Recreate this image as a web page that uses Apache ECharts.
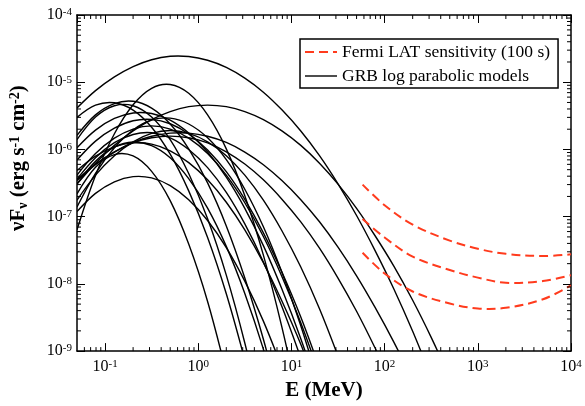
<!DOCTYPE html>
<html>
<head>
<meta charset="utf-8">
<script src="https://cdn.jsdelivr.net/npm/echarts@6/dist/echarts.min.js"></script>
<style>
  html, body { margin: 0; padding: 0; background: #fff; }
  #chart { width: 585px; height: 406px; }
</style>
</head>
<body>
<div id="chart"></div>
<script>
// Photon energies (MeV) at which each GRB log-parabolic model is tabulated
const energies = [0.05, 0.079, 0.126, 0.2, 0.316, 0.5, 0.79, 1.26, 2, 3.16, 5,
                  7.9, 12.6, 20, 31.6, 50, 79, 126, 200, 316, 500];

// nuF_nu (erg s^-1 cm^-2) of each burst model, aligned with `energies`
const grb01 = [4.15e-6, 7.50e-6, 1.20e-5, 1.71e-5, 2.16e-5, 2.43e-5, 2.41e-5, 2.12e-5, 1.66e-5, 1.15e-5, 7.11e-6,
               3.88e-6, 1.88e-6, 8.09e-7, 3.08e-7, 1.04e-7, 3.13e-8, 8.34e-9, 1.97e-9, 4.13e-10];
const grb02 = [3.05e-7, 6.25e-7, 1.15e-6, 1.89e-6, 2.78e-6, 3.66e-6, 4.33e-6, 4.57e-6, 4.33e-6, 3.66e-6, 2.78e-6,
               1.89e-6, 1.15e-6, 6.25e-7, 3.05e-7, 1.33e-7, 5.20e-8, 1.82e-8, 5.70e-9, 1.60e-9, 4.02e-10];
const grb03 = [6.37e-8, 4.10e-7, 1.71e-6, 4.62e-6, 8.13e-6, 9.25e-6, 6.84e-6, 3.27e-6, 1.02e-6, 2.05e-7, 2.68e-8,
               2.28e-9, 1.25e-10];
const grb04 = [1.62e-6, 3.27e-6, 4.81e-6, 5.20e-6, 4.12e-6, 2.39e-6, 1.02e-6, 3.18e-7, 7.28e-8, 1.22e-8, 1.50e-9,
               1.36e-10];
const grb05 = [3.00e-6, 4.56e-6, 4.95e-6, 3.85e-6, 2.14e-6, 8.51e-7, 2.42e-7, 4.91e-8, 7.13e-9, 7.40e-10];
const grb06 = [1.40e-6, 3.03e-6, 4.46e-6, 4.46e-6, 3.03e-6, 1.40e-6, 4.38e-7, 9.31e-8, 1.35e-8, 1.32e-9, 8.8e-11];
const grb07 = [1.39e-7, 4.40e-7, 1.06e-6, 1.95e-6, 2.74e-6, 2.92e-6, 2.39e-6, 1.49e-6, 7.06e-7, 2.56e-7, 7.06e-8,
               1.49e-8, 2.39e-9, 2.94e-10];
const grb08 = [6.95e-7, 1.33e-6, 2.07e-6, 2.67e-6, 2.80e-6, 2.41e-6, 1.70e-6, 9.84e-7, 4.67e-7, 1.81e-7, 5.75e-8,
               1.50e-8, 3.21e-9, 5.61e-10];
const grb09 = [3.44e-7, 5.92e-7, 9.14e-7, 1.27e-6, 1.57e-6, 1.75e-6, 1.75e-6, 1.57e-6, 1.27e-6, 9.14e-7, 5.92e-7,
               3.44e-7, 1.79e-7, 8.39e-8, 3.52e-8, 1.32e-8, 4.47e-9, 1.35e-9, 3.68e-10];
const grb10 = [3.08e-7, 6.68e-7, 1.08e-6, 1.29e-6, 1.14e-6, 7.52e-7, 3.68e-7, 1.34e-7, 3.61e-8, 7.21e-9, 1.07e-9,
               1.18e-10];
const grb11 = [2.19e-7, 5.45e-7, 8.38e-7, 8.00e-7, 4.72e-7, 1.73e-7, 3.91e-8, 5.48e-9, 4.78e-10];
const grb12 = [1.19e-7, 2.22e-7, 3.30e-7, 3.94e-7, 3.77e-7, 2.89e-7, 1.78e-7, 8.77e-8, 3.47e-8, 1.10e-8, 2.79e-9,
               5.68e-10];
const grb13 = [3.61e-7, 7.55e-7, 1.26e-6, 1.67e-6, 1.77e-6, 1.49e-6, 1.00e-6, 5.37e-7, 2.30e-7, 7.82e-8, 2.12e-8,
               4.59e-9, 7.92e-10];
const grb14 = [4.85e-7, 7.96e-7, 1.09e-6, 1.25e-6, 1.20e-6, 9.55e-7, 6.36e-7, 3.54e-7, 1.64e-7, 6.37e-8, 2.06e-8,
               5.56e-9, 1.26e-9, 2.36e-10];
const grb15 = [1.06e-6, 1.94e-6, 2.89e-6, 3.49e-6, 3.42e-6, 2.72e-6, 1.75e-6, 9.14e-7, 3.87e-7, 1.33e-7, 3.71e-8,
               8.38e-9, 1.53e-9, 2.29e-10];
const grb16 = [4.15e-7, 8.67e-7, 1.47e-6, 2.01e-6, 2.24e-6, 2.01e-6, 1.47e-6, 8.67e-7, 4.15e-7, 1.61e-7, 5.06e-8,
               1.29e-8, 2.65e-9, 4.44e-10];
const grb17 = [1.76e-7, 4.15e-7, 8.07e-7, 1.30e-6, 1.73e-6, 1.91e-6, 1.73e-6, 1.30e-6, 8.07e-7, 4.15e-7, 1.76e-7,
               6.17e-8, 1.78e-8, 4.27e-9, 8.45e-10];
const grb18 = [3.53e-7, 6.07e-7, 9.23e-7, 1.25e-6, 1.49e-6, 1.58e-6, 1.49e-6, 1.25e-6, 9.23e-7, 6.07e-7, 3.53e-7,
               1.82e-7, 8.36e-8, 3.40e-8, 1.22e-8, 3.91e-9, 1.11e-9, 2.78e-10];

// Fermi LAT 100 s sensitivity curves
const latEnergies = [58, 100, 200, 500, 1000, 2000, 5000, 10000];
const latHigh = [3.0e-7, 1.48e-7, 7.6e-8, 4.4e-8, 3.33e-8, 2.8e-8, 2.6e-8, 2.75e-8];
const latMid  = [9.2e-8, 4.9e-8, 2.55e-8, 1.61e-8, 1.24e-8, 1.04e-8, 1.10e-8, 1.35e-8];
const latLow  = [2.9e-8, 1.43e-8, 7.7e-9, 5.1e-9, 4.3e-9, 4.4e-9, 5.9e-9, 9.5e-9];

// Axis ranges and minor tick layout
const xRange = [0.05, 1e4];
const yRange = [1e-9, 1e-4];
const xDecades = [0.01, 0.1, 1, 10, 100, 1000];
const yDecades = [1e-9, 1e-8, 1e-7, 1e-6, 1e-5];
const minorSteps = [2, 3, 4, 5, 6, 7, 8, 9];

const GRB_NAME = 'GRB log parabolic models';
const LAT_NAME = 'Fermi LAT sensitivity (100 s)';
const SERIF = 'Liberation Serif';
const RED = '#ff3b1d';
const GRB_STYLE = { stroke: '#000', lineWidth: 1.4 };
const LAT_STYLE = { stroke: RED, lineWidth: 2, lineDash: [9, 5] };

const grbModels = [grb01, grb02, grb03, grb04, grb05, grb06, grb07, grb08, grb09,
                   grb10, grb11, grb12, grb13, grb14, grb15, grb16, grb17, grb18];
const latCurves = [latHigh, latMid, latLow];

const xMinor = [];
xDecades.forEach(d => minorSteps.forEach(m => {
  const v = m * d;
  if (v > xRange[0] && v < xRange[1]) xMinor.push(v);
}));
const yMinor = [];
yDecades.forEach(d => minorSteps.forEach(m => yMinor.push(m * d)));

function pairs(xs, ys) {
  return ys.map((y, i) => [xs[i], y]);
}

// One smooth curve through the tabulated points, drawn once per series
function curveSeries(xs, ys, style, z) {
  const data = pairs(xs, ys);
  return {
    type: 'custom',
    coordinateSystem: 'cartesian2d',
    xAxisIndex: 0, yAxisIndex: 0,
    silent: true, clip: true, z: z,
    data: data,
    renderItem: function (params, api) {
      if (params.dataIndexInside !== 0) return null;
      const pts = data.map(d => api.coord(d));
      return {
        type: 'polyline',
        shape: { points: pts, smooth: 0.35 },
        style: Object.assign({ fill: null }, style)
      };
    }
  };
}

// Short tick marks drawn inward from a frame edge
function tickSeries(data, dx, dy) {
  return {
    type: 'custom',
    coordinateSystem: 'cartesian2d',
    xAxisIndex: 0, yAxisIndex: 0,
    silent: true, clip: false, z: 6,
    data: data,
    renderItem: function (params, api) {
      const p = api.coord([api.value(0), api.value(1)]);
      return {
        type: 'line',
        shape: { x1: p[0], y1: p[1], x2: p[0] + dx, y2: p[1] + dy },
        style: { stroke: '#000', lineWidth: 1 }
      };
    }
  };
}

const powLabel = function (v) {
  const l = Math.log10(v);
  const e = Math.round(l);
  if (Math.abs(l - e) > 1e-6) return '';
  return '{b|10}{s|' + e + '}';
};
const powRich = {
  b: { fontFamily: SERIF, fontSize: 16, color: '#000', lineHeight: 16, verticalAlign: 'bottom' },
  s: { fontFamily: SERIF, fontSize: 11, color: '#000', lineHeight: 11, verticalAlign: 'top' }
};

const axisCommon = {
  type: 'log',
  logBase: 10,
  splitLine: { show: false },
  axisLine: { show: true, onZero: false, lineStyle: { color: '#000', width: 1.5 } },
  axisTick: { show: true, inside: true, length: 8, lineStyle: { color: '#000', width: 1 } }
};

const series = [
  // legend entries
  { name: LAT_NAME, type: 'line', data: [], symbol: 'none',
    lineStyle: { color: RED, width: 2, type: [9, 5] }, itemStyle: { color: RED } },
  { name: GRB_NAME, type: 'line', data: [], symbol: 'none',
    lineStyle: { color: '#000', width: 1.4 }, itemStyle: { color: '#000' } }
];
grbModels.forEach(arr => series.push(curveSeries(energies, arr, GRB_STYLE, 2)));
latCurves.forEach(arr => series.push(curveSeries(latEnergies, arr, LAT_STYLE, 3)));
series.push(tickSeries(xMinor.map(v => [v, yRange[0]]), 0, -4));
series.push(tickSeries(xMinor.map(v => [v, yRange[1]]), 0, 4));
series.push(tickSeries(yMinor.map(v => [xRange[0], v]), 4, 0));
series.push(tickSeries(yMinor.map(v => [xRange[1], v]), -4, 0));

const chart = echarts.init(document.getElementById('chart'), null, { renderer: 'canvas' });
chart.setOption({
  animation: false,
  backgroundColor: '#fff',
  grid: { left: 77, right: 14, top: 15, bottom: 47, containLabel: false },
  legend: {
    left: 300, top: 39,
    orient: 'vertical',
    padding: [4, 8, 3, 4],
    itemWidth: 32, itemHeight: 14, itemGap: 6,
    borderColor: '#000', borderWidth: 1.5,
    backgroundColor: '#fff',
    itemStyle: { opacity: 0 },
    textStyle: { fontFamily: SERIF, fontSize: 17.5, color: '#000' },
    data: [
      { name: LAT_NAME, lineStyle: { color: RED, width: 2, type: [9, 5] } },
      { name: GRB_NAME, lineStyle: { color: '#000', width: 1.4 } }
    ]
  },
  xAxis: [
    Object.assign({}, axisCommon, {
      position: 'bottom', min: xRange[0], max: xRange[1],
      name: 'E (MeV)', nameLocation: 'middle', nameGap: 26,
      nameTextStyle: { fontFamily: SERIF, fontWeight: 'bold', fontSize: 21, color: '#000' },
      axisLabel: { margin: 8, formatter: powLabel, rich: powRich, showMinLabel: false }
    }),
    Object.assign({}, axisCommon, {
      position: 'top', min: xRange[0], max: xRange[1],
      axisLabel: { show: false }
    })
  ],
  yAxis: [
    Object.assign({}, axisCommon, {
      position: 'left', min: yRange[0], max: yRange[1],
      name: '{t|νF}{sub|ν}{t| (erg s}{sup|-1}{t| cm}{sup|-2}{t|)}',
      nameLocation: 'middle', nameGap: 47, nameRotate: 90,
      nameTextStyle: {
        padding: [0, 0, 0, 50],
        rich: {
          t: { fontFamily: SERIF, fontWeight: 'bold', fontSize: 21, color: '#000', lineHeight: 22, verticalAlign: 'middle' },
          sup: { fontFamily: SERIF, fontWeight: 'bold', fontSize: 14, color: '#000', lineHeight: 12, verticalAlign: 'top' },
          sub: { fontFamily: SERIF, fontWeight: 'bold', fontSize: 14, color: '#000', lineHeight: 12, verticalAlign: 'bottom' }
        }
      },
      axisLabel: { margin: 5, formatter: powLabel, rich: powRich }
    }),
    Object.assign({}, axisCommon, {
      position: 'right', min: yRange[0], max: yRange[1],
      axisLabel: { show: false }
    })
  ],
  series: series
});
</script>
</body>
</html>
